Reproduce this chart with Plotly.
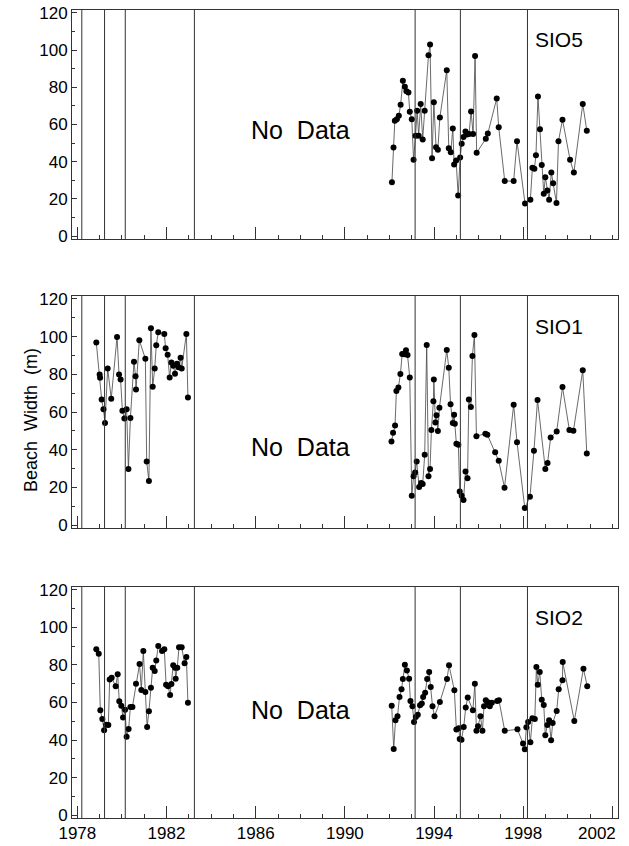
import plotly.graph_objects as go
from plotly.subplots import make_subplots

# storm-winter markers (vertical lines), decimal years
event_years = [1978.2, 1979.22, 1980.15, 1983.25, 1993.15, 1995.18, 1998.19]

# x tick labels on the bottom panel
xtick_years = [1978, 1982, 1986, 1990, 1994, 1998, 2002]

# SIO5 (top panel)
sio5_year = [1992.11, 1992.18, 1992.24, 1992.33, 1992.42, 1992.50, 1992.60, 1992.69, 1992.76, 1992.85, 1992.91,
             1993.00, 1993.08, 1993.17, 1993.24, 1993.31, 1993.40, 1993.49, 1993.58, 1993.75, 1993.82, 1993.91, 1993.99,
             1994.09, 1994.17, 1994.26, 1994.57, 1994.66, 1994.75, 1994.84, 1994.90, 1994.99,
             1995.08, 1995.17, 1995.24, 1995.32, 1995.41, 1995.48, 1995.57, 1995.66, 1995.75, 1995.84, 1995.91,
             1996.32, 1996.41, 1996.81, 1996.90, 1997.17, 1997.57, 1997.72,
             1998.08, 1998.32, 1998.41, 1998.50, 1998.57, 1998.66, 1998.75, 1998.83, 1998.92, 1998.99,
             1999.08, 1999.16, 1999.26, 1999.34, 1999.49, 1999.58, 1999.76, 2000.10, 2000.27, 2000.67, 2000.85]
sio5_width = [29, 47.6, 62, 62.8, 64.7, 70.6, 83.5, 80.3, 77.8, 77.2, 66.9,
              62.8, 41, 54, 67.4, 54, 71, 52, 67.4, 97.2, 103, 41.9, 71.9,
              47.8, 46.5, 63.8, 89.2, 47.2, 45.1, 57.9, 38.5, 40.7,
              21.8, 42.3, 49.6, 53.3, 56.2, 54.6, 54.9, 67, 54.9, 96.8, 44.8,
              52.3, 55.1, 74, 58.5, 29.6, 29.6, 51,
              17.5, 19.6, 36.8, 36.2, 43.5, 75.1, 57.4, 38.2, 22.8, 31.7,
              24.6, 19.6, 34.2, 28.4, 17.8, 51, 62.6, 41, 34.2, 71, 56.7]

# SIO1 (middle panel)
sio1_year_a = [1978.85, 1979.00, 1979.02, 1979.09, 1979.17, 1979.24, 1979.36, 1979.52, 1979.78, 1979.87, 1979.94,
               1980.02, 1980.11, 1980.21, 1980.29, 1980.38, 1980.54, 1980.61, 1980.63, 1980.78,
               1981.05, 1981.11, 1981.21, 1981.30, 1981.38, 1981.47, 1981.54, 1981.63, 1981.90, 1981.96,
               1982.05, 1982.14, 1982.22, 1982.30, 1982.38, 1982.47, 1982.54, 1982.63, 1982.68, 1982.89, 1982.96]
sio1_width_a = [96.8, 79.9, 78.2, 66.6, 61.5, 54.2, 83.1, 67.1, 99.8, 79.9, 77.3,
                60.7, 56.5, 61.5, 29.8, 56.8, 86.7, 79, 71.9, 98,
                88.3, 33.7, 23.4, 104.4, 73.4, 83.1, 95.4, 102.3, 101.4, 93.8,
                90.4, 78.3, 86.3, 84.5, 80.3, 85.6, 83.8, 88.8, 83.1, 101.4, 67.7]
sio1_year_b = [1992.09, 1992.16, 1992.25, 1992.31, 1992.40, 1992.49, 1992.57, 1992.65, 1992.74, 1992.81, 1992.91,
               1993.00, 1993.08, 1993.15, 1993.22, 1993.33, 1993.42, 1993.49, 1993.58, 1993.67, 1993.75, 1993.82,
               1993.88, 1993.97, 1993.99,
               1994.06, 1994.11, 1994.17, 1994.24, 1994.57, 1994.66, 1994.74, 1994.84, 1994.90, 1994.93,
               1995.00, 1995.09, 1995.15, 1995.24, 1995.32, 1995.41, 1995.50, 1995.56, 1995.65, 1995.72, 1995.81, 1995.90,
               1996.30, 1996.39, 1996.74, 1996.90, 1997.16, 1997.57, 1997.72,
               1998.07, 1998.30, 1998.48, 1998.64, 1998.99, 1999.09, 1999.23, 1999.50, 1999.76,
               2000.07, 2000.25, 2000.67, 2000.85]
sio1_width_b = [44.4, 49, 52.9, 71.2, 73, 80.1, 90.8, 90.6, 92.7, 90.2, 78.3,
                15.6, 25.9, 27.9, 33.7, 20.2, 22.4, 21.8, 37.3, 95.6, 25.9, 29.8, 50.4, 65.7, 77.3,
                54.4, 58.3, 49.9, 62.2, 92.9, 83.5, 64.1, 54.2, 58.6, 53.8,
                43.2, 42.6, 17.9, 15.6, 13.3, 28.4, 24.9, 66.6, 62.7, 89.7, 100.9, 47.2,
                48.5, 48, 38.7, 34.1, 19.9, 63.9, 44,
                9.1, 15.1, 39.4, 66.4, 29.8, 33, 46.5, 49.7, 73.2,
                50.4, 50.1, 82.2, 38]

# SIO2 (bottom panel)
sio2_year_a = [1978.85, 1978.96, 1979.03, 1979.12, 1979.20, 1979.29, 1979.39, 1979.45, 1979.54, 1979.72, 1979.81,
               1979.88, 1979.97, 1980.05, 1980.14, 1980.21, 1980.30, 1980.38, 1980.47, 1980.63, 1980.79, 1980.87,
               1980.96, 1981.05, 1981.13, 1981.21, 1981.30, 1981.38, 1981.47, 1981.54, 1981.63, 1981.80, 1981.90,
               1981.98, 1982.07, 1982.16, 1982.22, 1982.30, 1982.38, 1982.41, 1982.48, 1982.56, 1982.68, 1982.81,
               1982.89, 1982.96]
sio2_width_a = [88.3, 86, 55.9, 51.2, 45.2, 48.2, 48, 72.2, 73.2, 68.6, 75,
                60.6, 58.2, 52, 56.2, 41.7, 45.9, 57.6, 57.6, 70, 80.5, 66.7,
                87.4, 65.6, 47, 55.3, 67.9, 78.5, 76.8, 82.4, 90.1, 87.4, 88.3,
                69.5, 68.6, 64, 69.9, 79.8, 78.5, 72.7, 78.5, 89.4, 89.4, 80.9,
                84.2, 59.9]
sio2_year_b = [1992.10, 1992.19, 1992.27, 1992.36, 1992.45, 1992.54, 1992.60, 1992.69, 1992.78, 1992.88, 1992.94,
               1993.03, 1993.10, 1993.18, 1993.27, 1993.37, 1993.45, 1993.51, 1993.60, 1993.69, 1993.78, 1993.85, 1993.93,
               1994.02, 1994.26, 1994.58, 1994.67, 1994.91,
               1995.00, 1995.11, 1995.15, 1995.23, 1995.33, 1995.42, 1995.51, 1995.74, 1995.83, 1995.90, 1995.97,
               1996.08, 1996.17, 1996.24, 1996.32, 1996.41, 1996.50, 1996.59, 1996.83, 1996.91,
               1997.17, 1997.74, 1997.99,
               1998.07, 1998.14, 1998.22, 1998.32, 1998.41, 1998.52, 1998.59, 1998.65, 1998.74, 1998.83, 1998.92, 1998.99,
               1999.08, 1999.16, 1999.25, 1999.32, 1999.50, 1999.59, 1999.76, 1999.77,
               2000.29, 2000.70, 2000.87]
sio2_width_b = [58.3, 35.3, 50.5, 52.7, 62.9, 67, 72.5, 80.1, 77.1, 72.7, 60.8,
                58, 49.6, 52.3, 53.5, 58.5, 59.4, 62.9, 65.2, 72.5, 76.2, 68.3, 58,
                52.7, 60.3, 72.5, 79.8, 66.5,
                45.6, 46.3, 40.6, 40.2, 47, 57.3, 62.6, 55.9, 70, 44.9, 47.3,
                52.7, 44.9, 58, 61.2, 60.1, 58, 59.9, 60.8, 61.2,
                44.9, 45.7, 38.1,
                35.1, 46.8, 49.6, 38.8, 51.6, 51.2, 78.9, 69.5, 76.2, 61.5, 58.7, 42.6,
                48, 50.5, 39.9, 49.1, 55.5, 67, 71.8, 81.6,
                50.2, 78, 68.6]

panel_names = ["SIO5", "SIO1", "SIO2"]
nodata_y = [57, 41.5, 56]

panels = [
    [(sio5_year, sio5_width)],
    [(sio1_year_a, sio1_width_a), (sio1_year_b, sio1_width_b)],
    [(sio2_year_a, sio2_width_a), (sio2_year_b, sio2_width_b)],
]

x_range = [1977.76, 2002.25]

fig = make_subplots(rows=3, cols=1)

for i, series in enumerate(panels):
    for xs, ys in series:
        fig.add_trace(go.Scatter(x=xs, y=ys, mode="lines+markers",
                                 line=dict(color="#444444", width=0.8),
                                 marker=dict(color="black", size=6),
                                 showlegend=False, cliponaxis=False), row=i + 1, col=1)
    for ev in event_years:
        fig.add_vline(x=ev, line=dict(color="#333333", width=1), row=i + 1, col=1)
    fig.add_annotation(x=1998.45, y=105.5, text=panel_names[i], showarrow=False, xanchor="left",
                       font=dict(size=21, color="black"), row=i + 1, col=1)
    fig.add_annotation(x=1988, y=nodata_y[i], text="No\u00a0 Data", showarrow=False,
                       font=dict(size=25, color="black"), row=i + 1, col=1)

domains = [[0.7166, 1.0], [0.3589, 0.646], [0.0, 0.2859]]
for i in range(3):
    fig.update_xaxes(range=x_range, tickvals=xtick_years, ticktext=[str(y) for y in xtick_years[:-1]] + [""],
                     ticks="inside", ticklen=12,
                     tickcolor="#333333", showticklabels=(i == 2), showline=True, linecolor="#333333",
                     linewidth=1, mirror=True, showgrid=False, zeroline=False, automargin=False,
                     minor=dict(dtick=1, tick0=1978, ticks="inside", ticklen=4, tickcolor="#333333"),
                     tickfont=dict(size=17, color="black"), row=i + 1, col=1)
    fig.update_yaxes(range=[-1.5, 121.5], dtick=20, ticks="inside", ticklen=5, tickcolor="#333333",
                     showline=True, linecolor="#333333", linewidth=1, mirror=True, showgrid=False,
                     zeroline=False, automargin=False,
                     minor=dict(dtick=10, ticks="inside", ticklen=3, tickcolor="#333333"),
                     tickfont=dict(size=17, color="black"), domain=domains[i], row=i + 1, col=1)

# last tick label kept inside the page, flush with the right frame
fig.add_annotation(x=x_range[1], y=0, xref="x3", yref="y3 domain", text=str(xtick_years[-1]),
                   showarrow=False, xanchor="right", yanchor="top", yshift=-4,
                   font=dict(size=17, color="black"))

# y axis title placed in the left margin
fig.add_annotation(xref="paper", yref="paper", x=-0.097, y=0.4926, text="Beach\u00a0 Width\u00a0 (m)",
                   textangle=-90, showarrow=False, font=dict(size=18, color="black"))

fig.update_layout(width=629, height=846, margin=dict(l=72, r=11, t=10, b=28),
                  paper_bgcolor="white", plot_bgcolor="white",
                  font=dict(family="Liberation Sans, Arial, sans-serif", color="black"))

fig.write_html("out.html", config={"displayModeBar": False},
               post_script="document.body.style.margin='0';")
